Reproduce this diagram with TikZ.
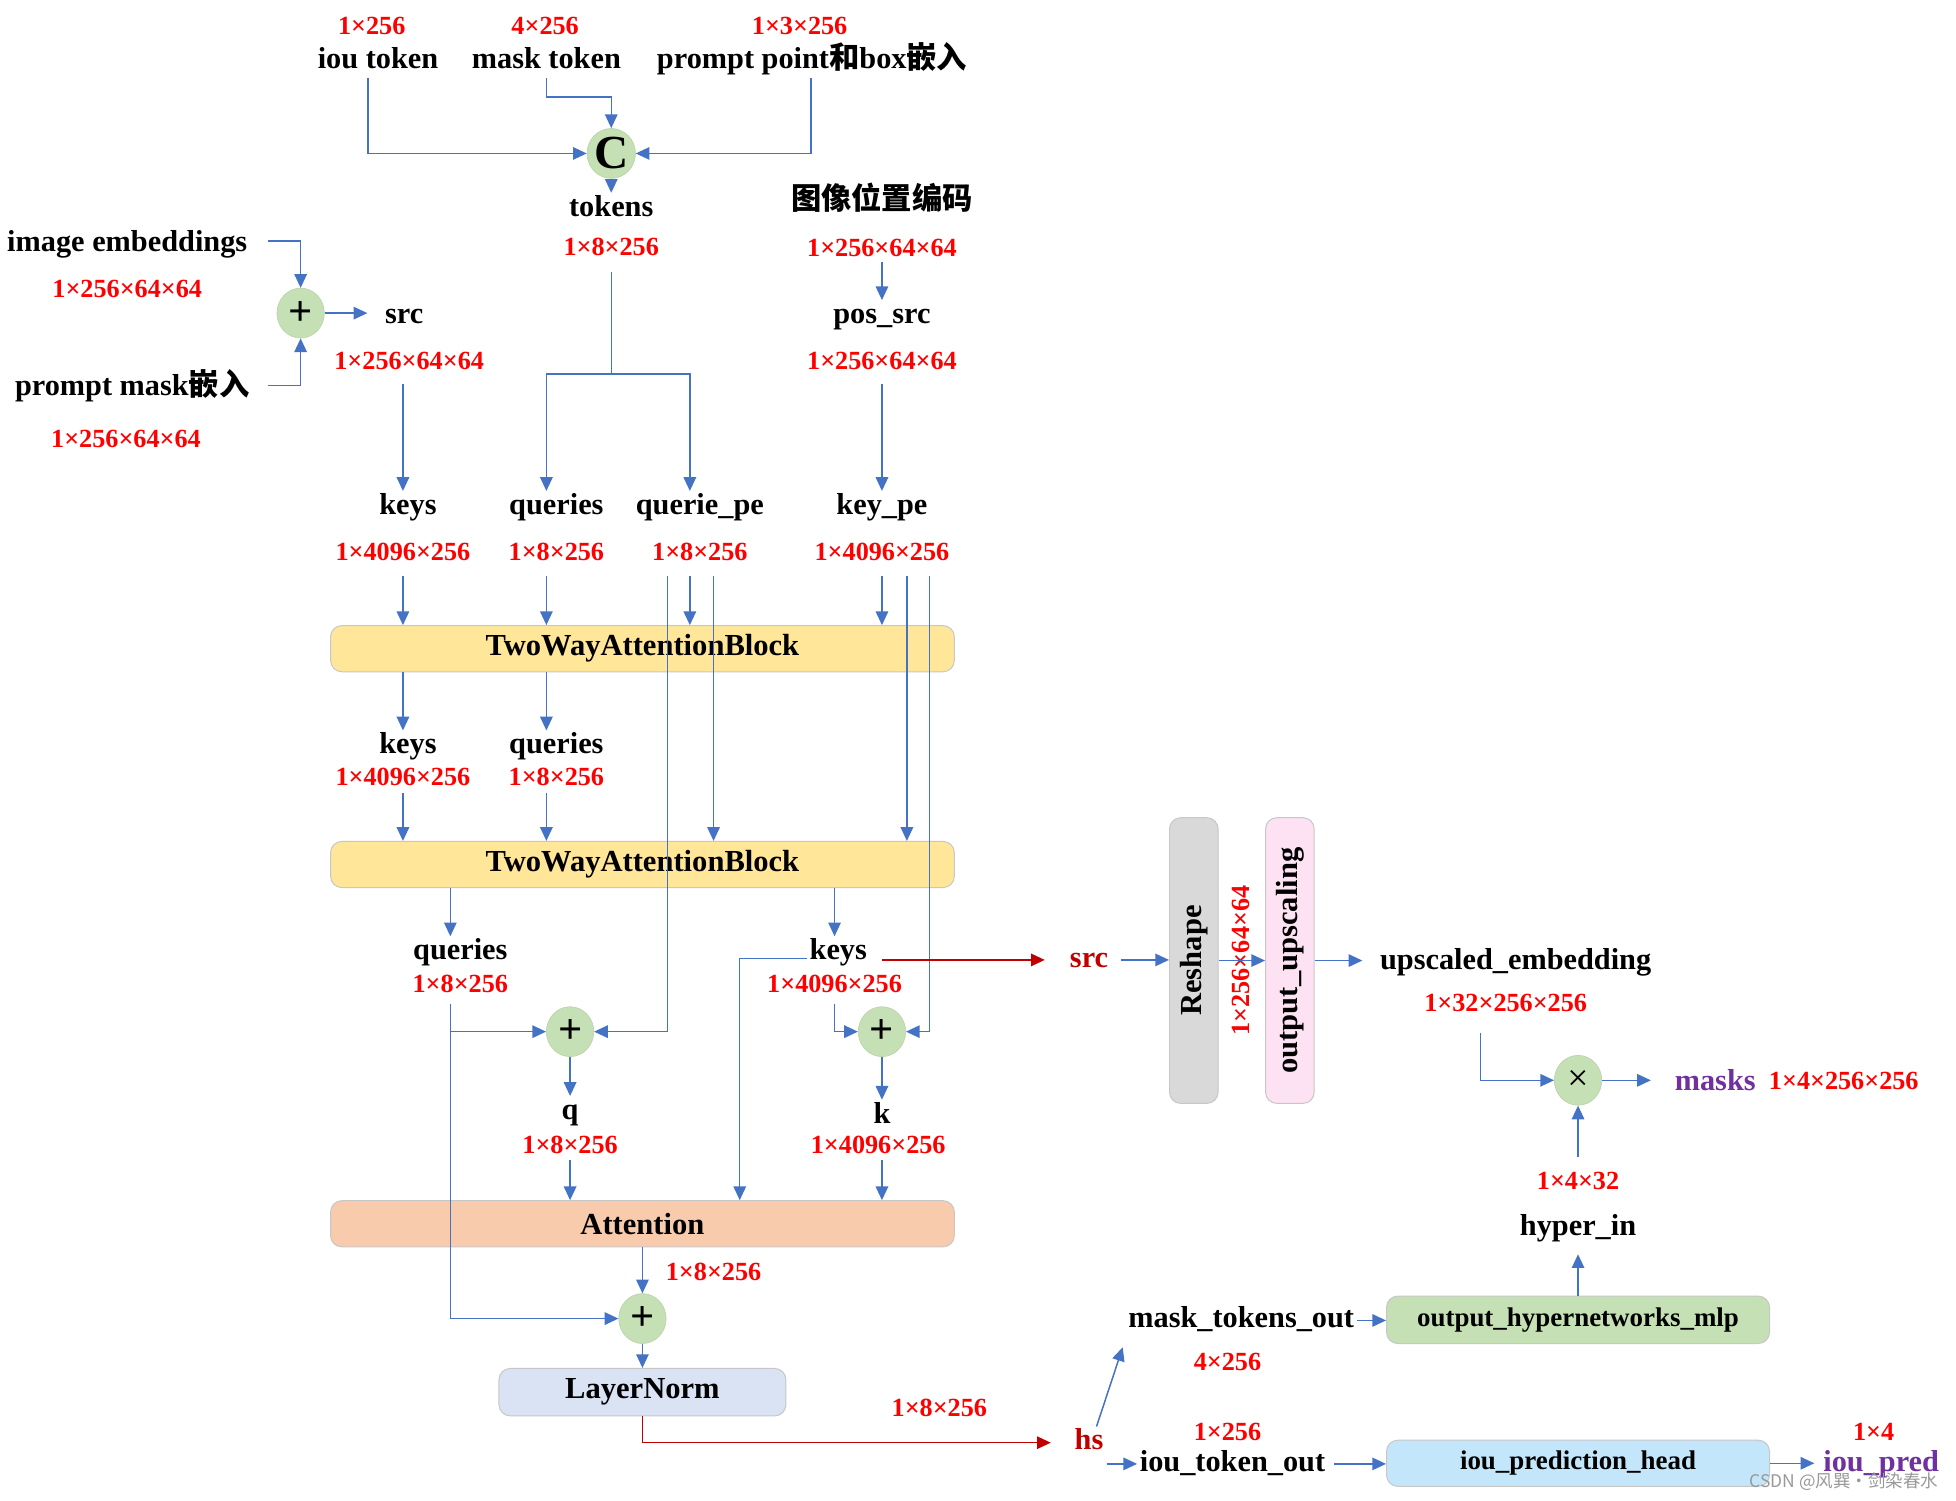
\documentclass[tikz,border=0pt]{standalone}
\usepackage{fontspec}
\setmainfont{Liberation Serif}
\newfontfamily\cjk{Noto Sans CJK SC}
\usetikzlibrary{arrows.meta,shapes.geometric,calc}
\definecolor{lblue}{HTML}{4472C4}
\definecolor{dred}{HTML}{C00000}
\definecolor{rtext}{HTML}{FF0000}
\definecolor{purp}{HTML}{7030A0}
\definecolor{opg}{HTML}{C5E0B4}
\definecolor{yel}{HTML}{FFE699}
\definecolor{sal}{HTML}{F8CBAD}
\definecolor{lav}{HTML}{DAE3F3}
\definecolor{gry}{HTML}{D9D9D9}
\definecolor{pnk}{HTML}{FDE2F3}
\definecolor{lbluebox}{HTML}{C3E6FA}
\begin{document}
\begin{tikzpicture}[x=1pt,y=-1pt,
 lbl/.style={font=\bfseries\fontsize{24.3}{28}\selectfont, inner sep=2pt, text height=16.5pt, text depth=5pt, yshift=-2.5pt},
 dim/.style={text=rtext, font=\bfseries\fontsize{21}{24}\selectfont, inner sep=2pt, text height=14pt, text depth=3pt, yshift=-2pt},
 arr/.style={draw=lblue, line width=1.2pt, -{Triangle[length=11pt,width=10pt]}},
 ln/.style={draw=lblue, line width=1.2pt},
 rarr/.style={draw=dred, line width=1.2pt, -{Triangle[length=11pt,width=10pt]}},
 op/.style={ellipse, fill=opg, draw=opg!85!gray, line width=0.5pt, inner sep=0pt, minimum width=38pt, minimum height=40pt},
 blk/.style={rounded corners=9pt, draw=black!22, line width=0.8pt, font=\bfseries\fontsize{24.5}{28}\selectfont, inner sep=0pt},
]
\fill[white] (0,0) rectangle (1568,1203);
\useasboundingbox (0,0) rectangle (1568,1203);

% ---------- top ----------
\node[dim] (d1) at (298,20) {1×256};
\node[lbl] (iou) at (303,47) {iou token};
\node[dim] (d2) at (437,20) {4×256};
\node[lbl] (mask) at (438,47) {mask token};
\node[dim] (d3) at (641,20) {1×3×256};
\node[lbl] (ppt) at (651,47) {prompt point{\cjk 和}box{\cjk 嵌入}};
\node[op, font=\bfseries\fontsize{38}{38}\selectfont] (C) at (490,123) {C};
\node[lbl] (tokens) at (490,165) {tokens};
\node[dim] (dtok) at (490,197) {1×8×256};
\node[lbl] (pe) at (707,160) {\cjk 图像位置编码};
\node[dim] (dpe) at (707,198) {1×256×64×64};
\node[lbl] (possrc) at (707,251) {pos\_src};
\node[dim] (dpos) at (707,289) {1×256×64×64};

\draw[arr] ([xshift=-8pt]iou.south) |- (C.west);
\draw[arr] (mask.south) |- ($(C.north)+(0,-25)$) -- (C.north);
\draw[arr] ([xshift=-1pt]ppt.south) |- (C.east);
\draw[arr] (C.south) -- (tokens.north);

% ---------- left ----------
\node[lbl] (img) at (102,193) {image embeddings};
\node[dim] (dimg) at (102,231) {1×256×64×64};
\node[op, font=\bfseries\fontsize{34}{34}\selectfont] (P1) at (241,251) {+};
\node[lbl] (pm) at (106,309) {prompt mask{\cjk 嵌入}};
\node[dim] (dpm) at (101,351) {1×256×64×64};
\node[lbl] (src) at (324,251) {src};
\node[dim] (dsrc) at (328,289) {1×256×64×64};

\coordinate (ie) at (215,193);
\coordinate (pmc) at (215,309);
\draw[arr] (ie) -| (P1.north);
\draw[arr] (pmc) -| (P1.south);
\draw[arr, shorten >=12pt] (P1.east) -- (P1.east -| src.west);

% ---------- row 1 ----------
\node[lbl] (keys1) at (327,404) {keys};
\node[dim] (dk1) at (323,442) {1×4096×256};
\node[lbl] (q1) at (446,404) {queries};
\node[dim] (dq1) at (446,442) {1×8×256};
\node[lbl] (qpe) at (561,404) {querie\_pe};
\node[dim] (dqpe) at (561,442) {1×8×256};
\node[lbl] (kpe) at (707,404) {key\_pe};
\node[dim] (dkpe) at (707,442) {1×4096×256};

\coordinate (s1) at (323,308);
\draw[arr] (s1) -- (keys1.north -| s1);
\coordinate (t0) at (490,218);
\coordinate (tL) at (438,300);
\coordinate (tR) at (553,300);
\draw[ln] (t0) |- (tL);
\draw[arr] (tL) -- (q1.north -| tL);
\draw[arr] (t0) |- (tR) -- (qpe.north -| tR);
\coordinate (pp1) at (707,210);
\draw[arr] (pp1) -- (possrc.north);
\coordinate (pp2) at (707,308);
\draw[arr] (pp2) -- (kpe.north);

% ---------- blocks ----------
\node[blk, fill=yel, minimum width=500pt, minimum height=37pt] (TW1) at (515,520) {TwoWayAttentionBlock};
\node[blk, fill=yel, minimum width=500pt, minimum height=37pt] (TW2) at (515,693) {TwoWayAttentionBlock};
\node[blk, fill=sal, minimum width=500pt, minimum height=37pt] (Att) at (515,981) {Attention};
\node[blk, fill=lav, minimum width=230pt, minimum height=38pt] (LN) at (515,1116) {LayerNorm};

\coordinate (r1K) at (323,462);
\coordinate (r1Q) at (438,462);
\coordinate (r1Pa) at (535,462);
\coordinate (r1Pm) at (553,462);
\coordinate (r1Pb) at (572,462);
\coordinate (r1Ka) at (707,462);
\coordinate (r1Kb) at (727,462);
\coordinate (r1Kc) at (745,462);
\draw[arr] (r1K) -- (TW1.north -| r1K);
\draw[arr] (r1Q) -- (TW1.north -| r1Q);
\draw[arr] (r1Pm) -- (TW1.north -| r1Pm);
\draw[arr] (r1Ka) -- (TW1.north -| r1Ka);

% ---------- row 2 ----------
\node[lbl] (keys2) at (327,596) {keys};
\node[dim] (dk2) at (323,622) {1×4096×256};
\node[lbl] (q2) at (446,596) {queries};
\node[dim] (dq2) at (446,622) {1×8×256};
\draw[arr] (TW1.south -| r1K) -- (keys2.north -| r1K);
\draw[arr] (TW1.south -| r1Q) -- (q2.north -| r1Q);
\coordinate (r2K) at (323,636);
\coordinate (r2Q) at (438,636);
\draw[arr] (r2K) -- (TW2.north -| r2K);
\draw[arr] (r2Q) -- (TW2.north -| r2Q);
\draw[arr] (r1Pb) -- (TW2.north -| r1Pb);
\draw[arr] (r1Kb) -- (TW2.north -| r1Kb);

% ---------- row 3 ----------
\node[lbl] (q3) at (369,761) {queries};
\node[dim] (dq3) at (369,788) {1×8×256};
\node[lbl] (k3) at (672,761) {keys};
\node[dim] (dk3) at (669,788) {1×4096×256};
\coordinate (c361) at (361,0);
\coordinate (c669) at (669,0);
\coordinate (c593) at (593,0);
\draw[arr] (TW2.south -| c361) -- (q3.north -| c361);
\draw[arr] (TW2.south -| c669) -- (k3.north -| c669);
\draw[arr] ([yshift=-5pt]k3.west) -| (Att.north -| c593);

\node[op, font=\bfseries\fontsize{34}{34}\selectfont] (Pq) at (457,827) {+};
\node[op, font=\bfseries\fontsize{34}{34}\selectfont] (Pk) at (707,827) {+};
\node[op, font=\bfseries\fontsize{34}{34}\selectfont] (P3) at (515,1057) {+};

\draw[arr] (r1Pa) |- (Pq.east);
\draw[arr] (r1Kc) |- (Pk.east);
\coordinate (k3s) at (669,805);
\coordinate (q3s) at (361,805);
\draw[arr] (k3s) |- (Pk.west);
\draw[arr] (q3s) |- (Pq.west);
\draw[arr] (q3s) |- (P3.west);

\node[lbl] (qn) at (457,889) {q};
\node[dim] (dqn) at (457,917) {1×8×256};
\node[lbl] (kn) at (707,892) {k};
\node[dim] (dkn) at (704,917) {1×4096×256};
\draw[arr] (Pq.south) -- (qn.north);
\draw[arr] (Pk.south) -- (kn.north);
\coordinate (qs) at (457,930);
\coordinate (ks) at (707,930);
\draw[arr] (qs) -- (Att.north -| qs);
\draw[arr] (ks) -- (Att.north -| ks);

\node[dim] (datt) at (572,1019) {1×8×256};
\draw[arr] (Att.south) -- (P3.north);
\draw[arr] (P3.south) -- (LN.north);

\node[lbl, text=dred] (hs) at (873,1154) {hs};
\node[dim] (dln) at (753,1128) {1×8×256};
\draw[rarr, shorten >=17pt] (LN.south) |- (hs.west);

% ---------- right ----------
\node[lbl, text=dred] (src2) at (873,767) {src};
\draw[rarr, shorten <=10pt, shorten >=18pt] ([yshift=-6pt]k3.east) -- ([yshift=-6pt]k3.east -| src2.west);
\node[blk, fill=gry, minimum width=229pt, minimum height=39pt, rotate=90] (RS) at (957,770) {Reshape};
\node[blk, fill=pnk, minimum width=229pt, minimum height=39pt, rotate=90] (OU) at (1034,770) {output\_upscaling};
\node[text=rtext, font=\bfseries\fontsize{21}{24}\selectfont, inner sep=0pt, rotate=90] (drs) at (995,770) {1×256×64×64};
\draw[arr, shorten <=8pt] (src2.east) -- (src2.east -| RS.north);
\draw[arr] (RS.south) -- (OU.north);
\node[lbl] (ue) at (1215,769) {upscaled\_embedding};
\node[dim] (due) at (1207,803) {1×32×256×256};
\draw[arr, shorten >=12pt] (OU.south) -- (OU.south -| ue.west);
\node[op, font=\fontsize{30}{30}\selectfont] (X) at (1265,866) {×};
\coordinate (ue1) at (1187,828);
\draw[arr] (ue1) |- (X.west);
\node[lbl, text=purp] (masks) at (1375,866) {masks};
\node[dim] (dmasks) at (1478,866) {1×4×256×256};
\draw[arr, shorten >=17pt] (X.east) -- (X.east -| masks.west);
\node[dim] (dhyp) at (1265,946) {1×4×32};
\node[lbl] (hyp) at (1265,982) {hyper\_in};
\draw[arr] ([yshift=10pt]dhyp.north) -- (X.south);
\node[blk, fill=opg, minimum width=307pt, minimum height=38pt, font=\bfseries\fontsize{21.6}{24}\selectfont] (MLP) at (1265,1058) {output\_hypernetworks\_mlp};
\draw[arr] (MLP.north) -- ([yshift=-8pt]hyp.south);
\node[lbl] (mto) at (995,1056) {mask\_tokens\_out};
\node[dim] (dmto) at (984,1091) {4×256};
\draw[arr] (mto.east) -- (mto.east -| MLP.west);
\coordinate (hsup) at (900,1080);
\draw[arr] ([xshift=6pt]hs.north) -- (hsup);
\node[lbl] (ito) at (988,1171) {iou\_token\_out};
\node[dim] (dito) at (984,1147) {1×256};
\coordinate (hsb) at (887,1173.5);
\draw[arr] (hsb) -- (hsb -| ito.west);
\node[blk, fill=lbluebox, minimum width=307pt, minimum height=37pt, font=\bfseries\fontsize{21.6}{24}\selectfont] (IPH) at (1265,1173) {iou\_prediction\_head};
\draw[arr, shorten <=5pt] (ito.east) -- (ito.east -| IPH.west);
\node[lbl, text=purp] (ip) at (1508,1171) {iou\_pred};
\node[dim] (dip) at (1502,1147) {1×4};
\draw[arr, shorten >=5pt] (IPH.east) -- (IPH.east -| ip.west);
\node[text=black!40, font=\fontsize{14}{16}\selectfont\cjk, inner sep=0pt] (wm) at (1478,1188) {CSDN @风巽·剑染春水};
\end{tikzpicture}
\end{document}
